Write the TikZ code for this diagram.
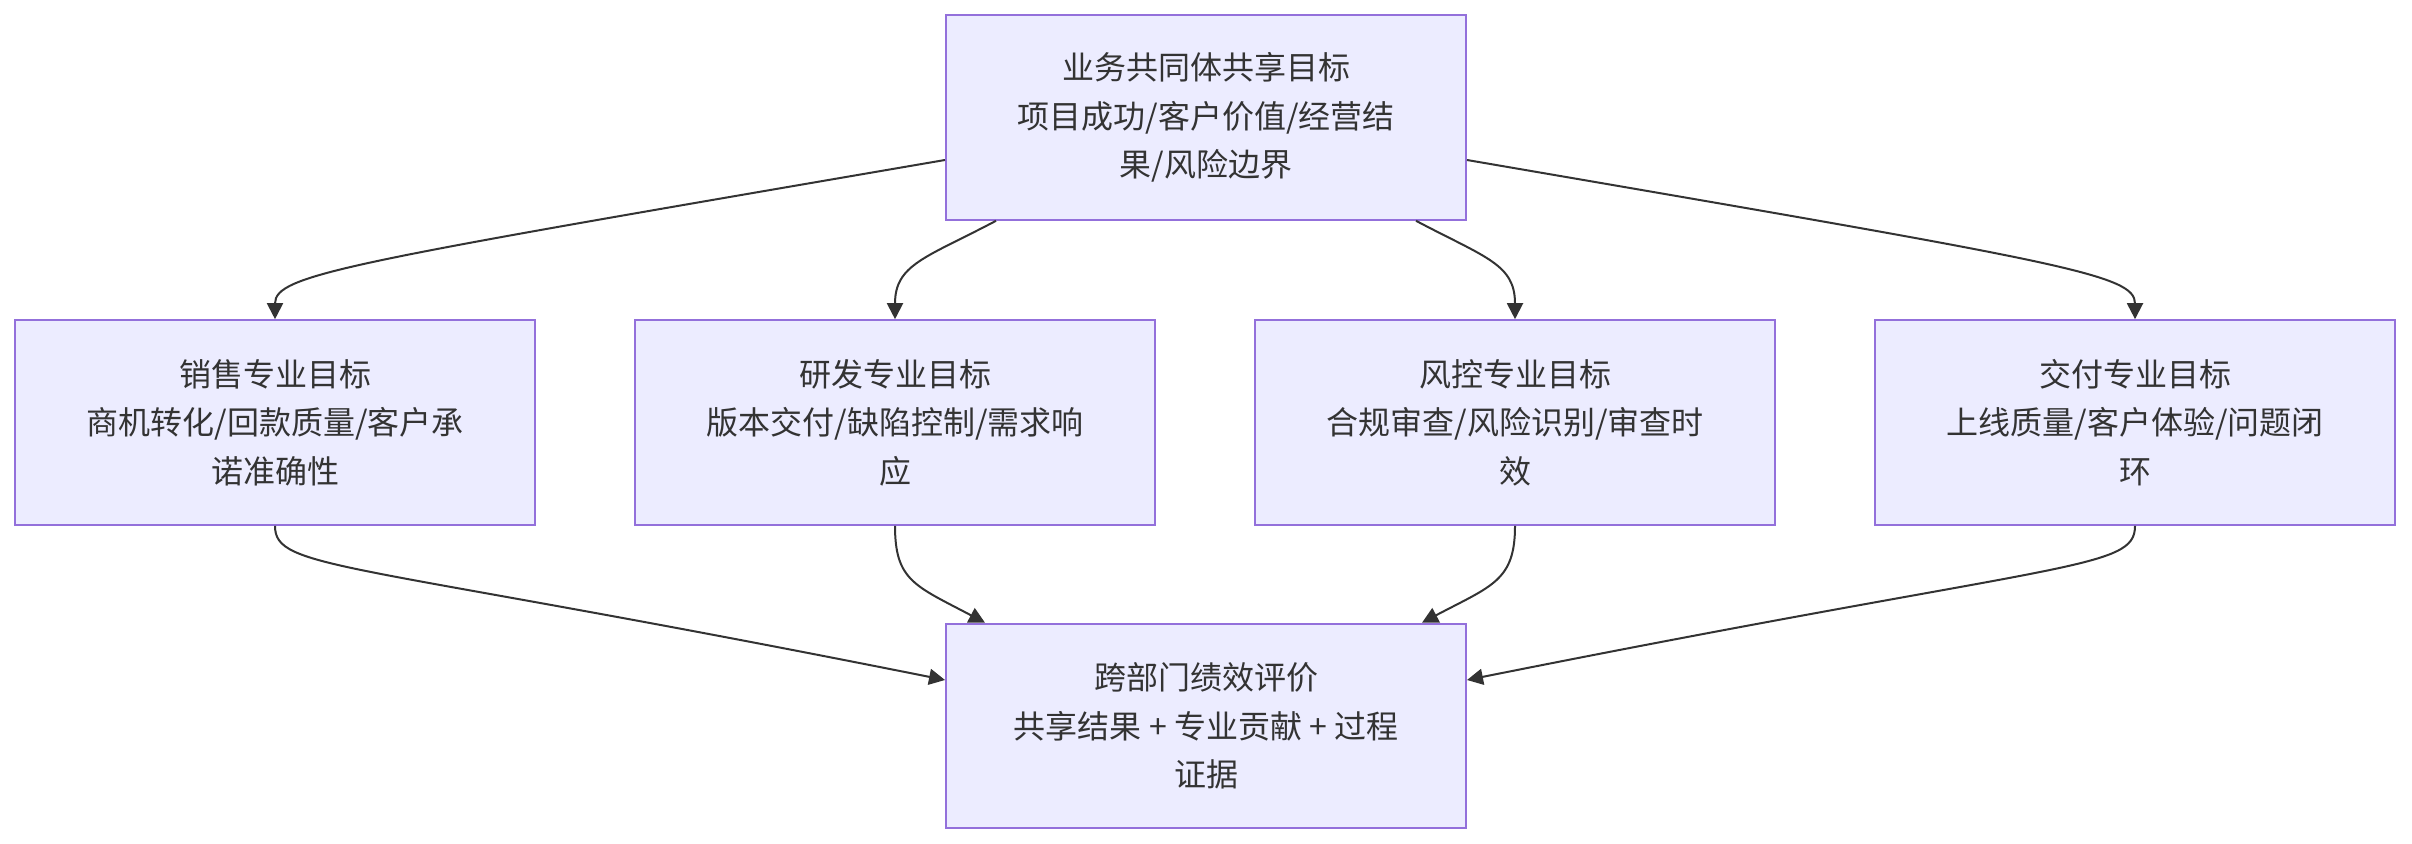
\documentclass[tikz,border=0pt]{standalone}
\usepackage{fontspec}
\newfontfamily\cjk{Noto Sans CJK SC}
\usetikzlibrary{arrows.meta,calc}
\definecolor{boxfill}{HTML}{ECECFF}
\definecolor{boxline}{HTML}{9370DB}
\definecolor{ink}{HTML}{333333}
\tikzset{
  box/.style={draw=boxline, fill=boxfill, line width=1pt, minimum width=260pt,
    minimum height=102.3pt, inner sep=0pt, align=center, text=ink,
    font=\cjk\fontsize{16pt}{24.25pt}\selectfont},
  edge/.style={draw=ink, line width=1pt, -{Triangle[length=8pt,width=8pt]}}
}
\begin{document}
\begin{tikzpicture}[x=0.5pt,y=-0.5pt]
\useasboundingbox (0,0) rectangle (2412,844);
\node[box] (top) at (1206,117.5) {业务共同体共享目标\\项目成功/客户价值/经营结\\果/风险边界};
\node[box] (m1) at (275,422.5) {销售专业目标\\商机转化/回款质量/客户承\\诺准确性};
\node[box] (m2) at (895,422.5) {研发专业目标\\版本交付/缺陷控制/需求响\\应};
\node[box] (m3) at (1515,422.5) {风控专业目标\\合规审查/风险识别/审查时\\效};
\node[box] (m4) at (2135,422.5) {交付专业目标\\上线质量/客户体验/问题闭\\环};
\node[box] (bot) at (1206,726) {跨部门绩效评价\\共享结果 + 专业贡献 + 过程\\证据};

\draw[edge] ($(top.west)+(0,42.5)$) .. controls +(-600,103) and +(0,-45) .. (m1.north);
\draw[edge] ($(top.south west)+(51,0)$) .. controls +(-70,37) and +(0,-55) .. (m2.north);
\draw[edge] ($(top.south east)+(-51,0)$) .. controls +(70,37) and +(0,-55) .. (m3.north);
\draw[edge] ($(top.east)+(0,42.5)$) .. controls +(600,103) and +(0,-45) .. (m4.north);

\draw[edge] (m1.south) .. controls +(0,45) and +(-600,-120) .. ($(bot.west)+(0,-46)$);
\draw[edge] (m2.south) .. controls +(0,55) and +(-70,-37) .. ($(bot.north west)+(40,0)$);
\draw[edge] (m3.south) .. controls +(0,55) and +(70,-37) .. ($(bot.north east)+(-45,0)$);
\draw[edge] (m4.south) .. controls +(0,45) and +(600,-120) .. ($(bot.east)+(0,-46)$);
\end{tikzpicture}
\end{document}
